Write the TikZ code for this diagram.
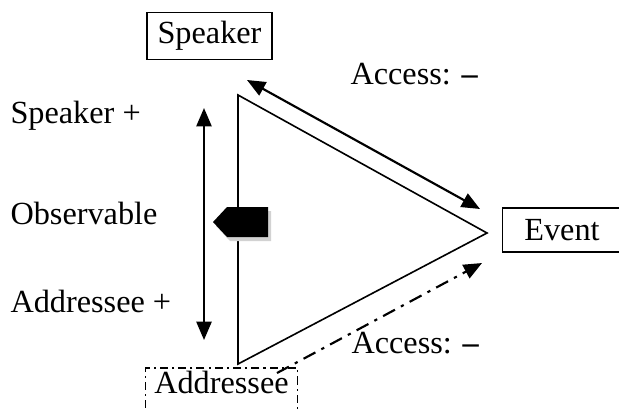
\documentclass[tikz,border=0pt]{standalone}
\usepackage{fontspec}
\setmainfont{Liberation Serif}
\usetikzlibrary{positioning}
\usetikzlibrary{arrows.meta}

\begin{document}
\begin{tikzpicture}[>={Triangle[length=6.8pt,width=5.6pt]},x=0.372pt,y=-0.372pt,font=\fontsize{12}{14}\selectfont]
    \useasboundingbox (0,0) rectangle (619,411);
    % corners of the triangle
    \coordinate (T) at (238,95);
    \coordinate (B) at (238,364);
    \coordinate (E) at (487,233);
    \draw [semithick] (T) -- (E) -- (B) -- cycle;

    \node (Speaker) [draw,semithick,minimum width=46.5pt,minimum height=16.7pt] at (209.5,36) {Speaker};
    \node (Event) [draw,semithick,minimum width=44.3pt,minimum height=16.4pt] at (562,230) {Event};
    \node (Addressee) [draw,semithick,dash pattern=on 3pt off 1.5pt on 0.8pt off 1.5pt,
        minimum width=55.4pt,inner ysep=1pt,text height=8.3pt,text depth=7.2pt,anchor=base] at (221.5,393) {Addressee};

    \node (SpkPlus) [anchor=base west,inner sep=0pt] at (10,123) {Speaker +};
    \node (Obs) [anchor=base west,inner sep=0pt] at (10,224) {Observable};
    \node (AddPlus) [anchor=base west,inner sep=0pt] at (10,312) {Addressee +};
    \node (AccTop) [anchor=base west,inner sep=0pt] at (350,84) {Access: \textbf{--}};
    \node (AccBot) [anchor=base west,inner sep=0pt] at (351,353) {Access: \textbf{--}};

    % arrow ends
    \coordinate (s1) at (247,80);
    \coordinate (s2) at (480,209);
    \coordinate (v1) at (204,108);
    \coordinate (v2) at (204,340);
    \coordinate (a1) at (277,373);
    \coordinate (a2) at (482,263);
    \draw [thick,<->] (s1) -- (s2);
    \draw [thick,<->] (v1) -- (v2);
    \draw [thick,->,dash pattern=on 5pt off 2.5pt on 1.2pt off 2.5pt] (a1) -- (a2);

    % pointer block with its shadow
    \fill [gray!35] (216,226) -- (230,211) -- (271,211) -- (271,241) -- (230,241) -- cycle;
    \fill (213,222) -- (227,207) -- (268,207) -- (268,237) -- (227,237) -- cycle;
\end{tikzpicture}
\end{document}
